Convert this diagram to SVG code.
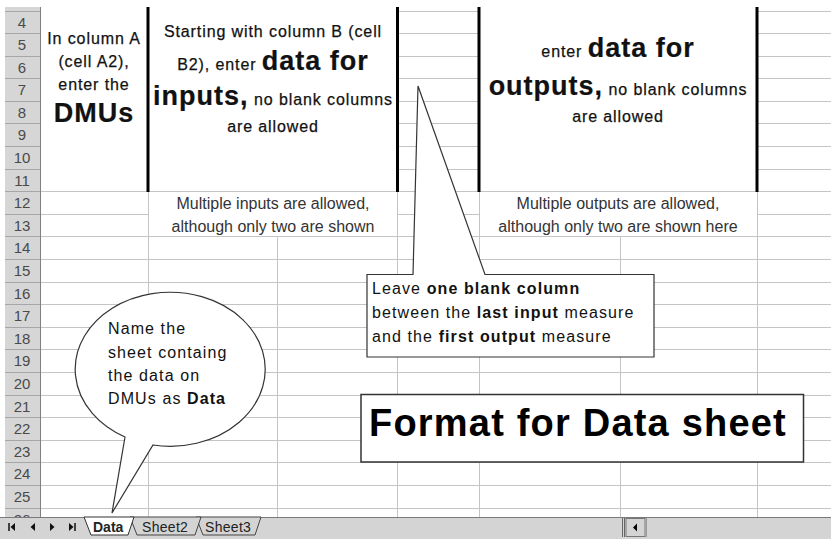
<svg xmlns="http://www.w3.org/2000/svg" width="831" height="539" viewBox="0 0 831 539">
<style>
.grid{stroke:#c4c4c4;stroke-width:1;fill:none}
.hdrline{stroke:#a6a6a6;stroke-width:1}
.thick{stroke:#000;stroke-width:3}
.rown{font-family:"Liberation Sans",Arial,sans-serif;font-size:15px;fill:#4a4a4a;text-anchor:middle}
.top{font-family:"Liberation Sans",Arial,sans-serif;font-size:16px;letter-spacing:0.9px;fill:#111;text-anchor:middle;stroke:#111;stroke-width:0.25}
.big{font-size:27px;font-weight:bold;letter-spacing:1px;stroke-width:0.2}
.multi{font-family:"Liberation Sans",Arial,sans-serif;font-size:16px;fill:#333;text-anchor:middle}
.note{font-family:"Liberation Sans",Arial,sans-serif;font-size:16px;letter-spacing:1.1px;fill:#111}
.b{font-weight:bold}
.shape{fill:#fff;stroke:#333;stroke-width:1.2}
.tab{font-family:"Liberation Sans",Arial,sans-serif;font-size:14px;fill:#222}
</style>
<defs>
<clipPath id="gridclip"><rect x="0" y="7" width="831" height="510"/></clipPath>
</defs>
<rect width="831" height="539" fill="#fff"/>
<g id="sheet" clip-path="url(#gridclip)">
<rect x="5" y="7" width="35" height="510" fill="#d6d6d6"/>
<g class="hdrline">
<path d="M5 11.5H40M5 33.5H40M5 56.5H40M5 78.5H40M5 101.5H40M5 123.5H40M5 146.5H40M5 169.5H40M5 191.5H40M5 214.5H40M5 236.5H40M5 259.5H40M5 282.5H40M5 304.5H40M5 327.5H40M5 349.5H40M5 372.5H40M5 395.5H40M5 417.5H40M5 440.5H40M5 462.5H40M5 485.5H40M5 508.5H40"/>
</g>
<path d="M40.5 7V517" stroke="#808080" stroke-width="1"/>
<g class="rown">
<text x="22" y="27.5">4</text><text x="22" y="50">5</text><text x="22" y="72.5">6</text><text x="22" y="95">7</text>
<text x="22" y="117.5">8</text><text x="22" y="140">9</text><text x="22" y="163">10</text><text x="22" y="185.5">11</text>
<text x="22" y="208">12</text><text x="22" y="230.5">13</text><text x="22" y="253">14</text><text x="22" y="276">15</text>
<text x="22" y="298.5">16</text><text x="22" y="321">17</text><text x="22" y="343.5">18</text><text x="22" y="366">19</text>
<text x="22" y="389">20</text><text x="22" y="411.5">21</text><text x="22" y="434">22</text><text x="22" y="456.5">23</text>
<text x="22" y="479">24</text><text x="22" y="502">25</text><text x="22" y="524.5">26</text>
</g>
<g class="grid">
<path d="M398 11.5H479M398 33.5H479M398 56.5H479M398 78.5H479M398 101.5H479M398 123.5H479M398 146.5H479M398 169.5H479"/>
<path d="M758 11.5H831M758 33.5H831M758 56.5H831M758 78.5H831M758 101.5H831M758 123.5H831M758 146.5H831M758 169.5H831"/>
<path d="M41 191.5H831"/>
<path d="M41 214.5H148M398 214.5H479M758 214.5H831"/>
<path d="M41 236.5H831M41 259.5H831M41 282.5H831M41 304.5H831M41 327.5H831M41 349.5H831M41 372.5H831M41 395.5H831M41 417.5H831M41 440.5H831M41 462.5H831M41 485.5H831M41 508.5H831"/>
<path d="M148.5 191.5V517M397.5 191.5V517M479.5 191.5V517M757.5 191.5V517M277.5 236.5V517M620.5 236.5V517"/>
</g>
<g class="thick">
<path d="M148 7V192M397.5 7V192M479 7V192M757 7V192"/>
</g>
</g>

<g id="note-dmus" class="top">
<text x="94" y="44">In column A</text>
<text x="94" y="67">(cell A2),</text>
<text x="94" y="90">enter the</text>
<text x="94" y="122" class="big">DMUs</text>
</g>

<g id="note-inputs" class="top">
<text x="273" y="37">Starting with column B (cell</text>
<text x="273" y="70">B2), enter <tspan class="big">data for</tspan></text>
<text x="273" y="105"><tspan class="big">inputs,</tspan> no blank columns</text>
<text x="273" y="132">are allowed</text>
</g>

<g id="note-outputs" class="top">
<text x="618" y="57">enter <tspan class="big">data for</tspan></text>
<text x="618" y="95"><tspan class="big">outputs,</tspan> no blank columns</text>
<text x="618" y="122">are allowed</text>
</g>

<g id="note-multi-inputs" class="multi">
<text x="273" y="209">Multiple inputs are allowed,</text>
<text x="273" y="231.5">although only two are shown</text>
</g>

<g id="note-multi-outputs" class="multi">
<text x="618" y="209">Multiple outputs are allowed,</text>
<text x="618" y="231.5">although only two are shown here</text>
</g>

<g id="callout-blank-column">
<path class="shape" d="M367 274.5H413L418 86L485 274.5H654V357H367Z"/>
<g class="note">
<text x="372" y="294">Leave <tspan class="b">one blank column</tspan></text>
<text x="372" y="318">between the <tspan class="b">last input</tspan> measure</text>
<text x="372" y="341.5">and the <tspan class="b">first output</tspan> measure</text>
</g>
</g>

<g id="bubble-sheet-name">
<path class="shape" d="M125 437L112 513L153 445A95 77 0 1 0 125 437Z"/>
<g class="note">
<text x="108" y="334">Name the</text>
<text x="108" y="357.5">sheet containg</text>
<text x="108" y="381">the data on</text>
<text x="108" y="404">DMUs as <tspan class="b">Data</tspan></text>
</g>
</g>

<g id="title-box">
<rect x="361" y="394.5" width="442.5" height="67.5" fill="#fff" stroke="#333" stroke-width="1.5"/>
<text x="369" y="436" font-family="Liberation Sans, Arial, sans-serif" font-size="38" font-weight="bold" letter-spacing="1.2" fill="#000">Format for Data sheet</text>
</g>

<g id="tab-bar">
<rect x="0" y="517" width="831" height="22" fill="#d4d4d4"/>
<path d="M0 517.5H831" stroke="#7a7a7a" stroke-width="1"/>
<g fill="#111">
<path d="M9 523V531" stroke="#111" stroke-width="1.5"/>
<polygon points="15,523 10.5,527 15,531"/>
<polygon points="35,523 30.5,527 35,531"/>
<polygon points="50,523 54.5,527 50,531"/>
<polygon points="69,523 73.5,527 69,531"/>
<path d="M75 523V531" stroke="#111" stroke-width="1.5"/>
</g>
<polygon points="196,517 203,535 255,535 261,517" fill="#d4d4d4" stroke="#444" stroke-width="1"/>
<polygon points="130,517 137,535 195,535 201,517" fill="#d4d4d4" stroke="#444" stroke-width="1"/>
<polygon points="84,517 91,535 128,535 134,517" fill="#fff" stroke="#333" stroke-width="1"/>
<text x="93" y="532" class="tab" font-weight="bold" font-size="15" fill="#000">Data</text>
<text x="142" y="532" class="tab" letter-spacing="0.3">Sheet2</text>
<text x="205" y="532" class="tab" letter-spacing="0.3">Sheet3</text>
<path d="M622.5 518V537M624.5 518V537" stroke="#666" stroke-width="1"/>
<rect x="626" y="518.5" width="19" height="18" fill="#d4d4d4" stroke="#777" stroke-width="1"/>
<polygon points="637,523.5 633,527.5 637,531.5" fill="#000"/>
<path d="M646.5 518V537" stroke="#999" stroke-width="1"/>
</g>
</svg>
